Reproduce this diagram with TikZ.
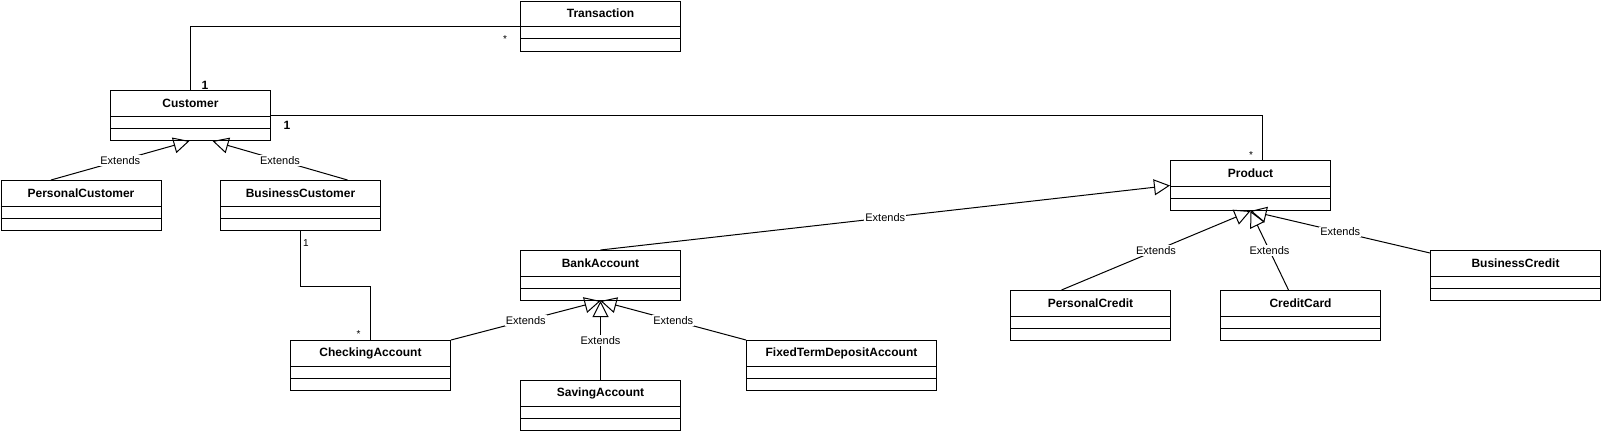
\documentclass[tikz,border=0pt]{standalone}
\usepackage{fontspec}
\setmainfont{Liberation Sans}
\usetikzlibrary{arrows.meta}

\begin{document}
\begin{tikzpicture}
    [
        x=1pt, y=-1pt,
        class_box/.style={rectangle, draw=black, line width=1pt, anchor=north west, minimum width=160pt, minimum height=50pt, inner sep=0pt},
        class_name/.style={anchor=north, minimum height=26pt, inner sep=0pt, font=\fontsize{12}{14}\selectfont\bfseries},
        extends_line/.style={-{Triangle[open, length=16pt, width=16pt]}, line width=1pt, color=black},
        assoc_line/.style={line width=1pt, color=black},
        extends_label/.style={fill=white, inner sep=1pt, font=\fontsize{11}{13}\selectfont},
        mult_big/.style={inner sep=0pt, font=\fontsize{12}{14}\selectfont\bfseries},
        mult_small/.style={inner sep=0pt, font=\fontsize{10}{12}\selectfont},
    ]
        \useasboundingbox (0,0) rectangle (1601,431);
        \node[class_box, label={[class_name]north:Transaction}] (transaction) at (520,0.5) {};
        \node[class_box, label={[class_name]north:Customer}] (customer) at (110,90) {};
        \node[class_box, label={[class_name]north:PersonalCustomer}] (personalCustomer) at (0.5,180) {};
        \node[class_box, label={[class_name]north:BusinessCustomer}] (businessCustomer) at (220,180) {};
        \node[class_box, label={[class_name]north:CheckingAccount}] (checkingAccount) at (290,340) {};
        \node[class_box, label={[class_name]north:BankAccount}] (bankAccount) at (520,250) {};
        \node[class_box, label={[class_name]north:SavingAccount}] (savingAccount) at (520,380) {};
        \node[class_box, minimum width=190pt, label={[class_name]north:FixedTermDepositAccount}] (fixedTermDepositAccount) at (746,340) {};
        \node[class_box, label={[class_name]north:Product}] (product) at (1170,160) {};
        \node[class_box, label={[class_name]north:PersonalCredit}] (personalCredit) at (1010,290) {};
        \node[class_box, label={[class_name]north:CreditCard}] (creditCard) at (1220,290) {};
        \node[class_box, minimum width=170pt, label={[class_name]north:BusinessCredit}] (businessCredit) at (1430,250) {};
        % compartments
        \foreach \cls in {transaction, customer, personalCustomer, businessCustomer, checkingAccount, bankAccount, savingAccount, fixedTermDepositAccount, product, personalCredit, creditCard, businessCredit} {
            \draw[line width=1pt] ([yshift=-26pt]\cls.north west) -- ([yshift=-26pt]\cls.north east);
            \draw[line width=1pt] ([yshift=-38pt]\cls.north west) -- ([yshift=-38pt]\cls.north east);
        }
        % associations
        \draw[assoc_line] (customer.north) |- (transaction.west);
        \draw[assoc_line] (customer.east) -| ([xshift=12pt]product.north);
        \draw[assoc_line] (businessCustomer.south) -- ++(0,55) -| (checkingAccount.north);
        \node[mult_big] (m_cust_trans) at (205,85) {1};
        \node[mult_small] (m_trans_cust) at (505,39) {*};
        \node[mult_big] (m_cust_prod) at (287,125) {1};
        \node[mult_small] (m_prod_cust) at (1251,155) {*};
        \node[mult_small] (m_bus_check) at (306,243) {1};
        \node[mult_small] (m_check_bus) at (358.5,334) {*};
        % generalisations
        \draw[extends_line] ([xshift=-30pt]personalCustomer.north) -- node[extends_label] (ext_pc) {Extends} ([xshift=-1pt]customer.south);
        \draw[extends_line] ([xshift=47pt]businessCustomer.north) -- node[extends_label] (ext_bc) {Extends} ([xshift=22pt]customer.south);
        \draw[extends_line] (checkingAccount.north east) -- node[extends_label] (ext_ca) {Extends} (bankAccount.south);
        \draw[extends_line] (savingAccount.north) -- node[extends_label] (ext_sa) {Extends} (bankAccount.south);
        \draw[extends_line] (fixedTermDepositAccount.north west) -- node[extends_label] (ext_fa) {Extends} (bankAccount.south);
        \draw[extends_line] (bankAccount.north) -- node[extends_label] (ext_ba) {Extends} (product.west);
        \draw[extends_line] ([xshift=-29pt]personalCredit.north) -- node[extends_label] (ext_pcr) {Extends} (product.south);
        \draw[extends_line] ([xshift=-12pt]creditCard.north) -- node[extends_label] (ext_cc) {Extends} (product.south);
        \draw[extends_line] ([yshift=-3pt]businessCredit.north west) -- node[extends_label] (ext_bcr) {Extends} (product.south);
    \end{tikzpicture}
\end{document}
